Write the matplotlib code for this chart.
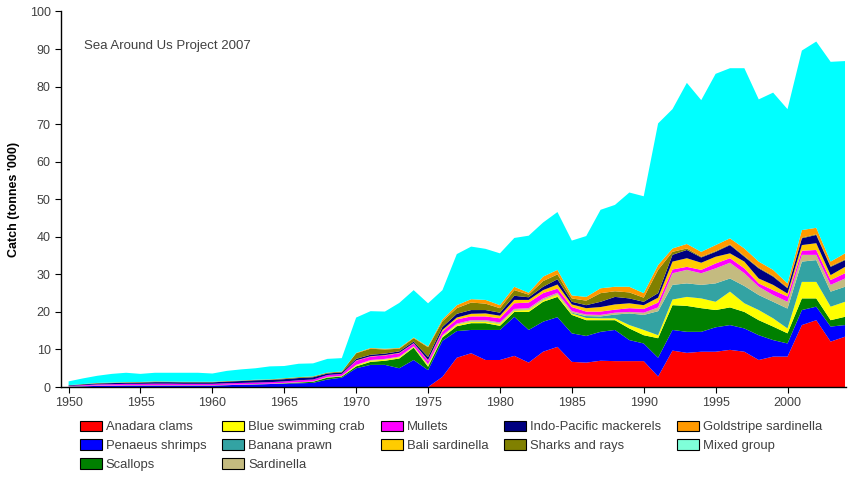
"""
Stacked catch by taxon, 1950-2004 (thousand tonnes)
"""

import matplotlib
matplotlib.use("Agg")
import matplotlib.pyplot as plt
from matplotlib.patches import Patch

plt.rcParams["font.family"] = ["Liberation Sans", "DejaVu Sans"]

# --- data (thousand tonnes, one value per year) ---
years = list(range(1950, 2005))

anadara_clams = [
    0, 0, 0, 0, 0, 0, 0, 0, 0, 0,
    0, 0, 0, 0, 0, 0, 0, 0, 0, 0,
    0, 0, 0, 0, 0, 0, 2.7, 7.8, 9.0, 7.2,
    7.2, 8.3, 6.5, 9.4, 10.7, 6.7, 6.5, 7.0, 6.9, 6.9,
    6.9, 2.8, 9.7, 9.1, 9.4, 9.4, 9.9, 9.4, 7.2, 8.1,
    8.1, 16.5, 17.8, 12.1, 13.4,
]
penaeus_shrimps = [
    0.1, 0.2, 0.3, 0.3, 0.4, 0.4, 0.4, 0.4, 0.4, 0.4,
    0.4, 0.5, 0.6, 0.7, 0.8, 0.9, 1.0, 1.1, 2.0, 2.5,
    5.0, 5.9, 5.9, 5.0, 7.2, 4.5, 9.6, 7.1, 6.2, 8.0,
    8.0, 10.4, 8.7, 8.0, 7.9, 7.6, 7.1, 7.7, 8.3, 5.6,
    4.7, 5.0, 5.5, 5.6, 5.3, 6.5, 6.6, 6.2, 6.6, 4.4,
    3.5, 4.0, 3.6, 4.0, 3.1,
]
scallops = [
    0, 0, 0, 0, 0, 0, 0, 0, 0, 0,
    0, 0, 0, 0, 0, 0.1, 0.2, 0.3, 0.5, 0.3,
    0.5, 0.8, 1.1, 2.6, 3.3, 0.9, 0.9, 1.3, 1.8, 1.8,
    1.1, 1.3, 4.8, 5.3, 5.4, 4.9, 4.2, 3.1, 2.6, 3.1,
    2.2, 5.2, 6.6, 6.9, 6.3, 4.6, 4.7, 4.4, 4.0, 3.6,
    2.7, 3.1, 2.2, 1.7, 2.2,
]
blue_swimming_crab = [
    0.05, 0.05, 0.05, 0.05, 0.05, 0.05, 0.05, 0.05, 0.05, 0.05,
    0.05, 0.05, 0.05, 0.05, 0.05, 0.05, 0.05, 0.05, 0.1, 0.1,
    0.3, 0.3, 0.3, 0.3, 0.2, 0.4, 0.3, 0.4, 0.4, 0.4,
    0.5, 0.4, 0.5, 0.4, 0.6, 0.4, 0.6, 0.5, 0.5, 0.9,
    1.4, 0.8, 1.5, 2.4, 2.6, 2.2, 4.2, 2.3, 2.7, 2.2,
    1.3, 4.4, 4.4, 3.6, 4.0,
]
banana_prawn = [
    0, 0, 0, 0, 0, 0, 0, 0, 0, 0,
    0, 0, 0, 0, 0, 0, 0, 0, 0, 0,
    0, 0, 0, 0, 0, 0, 0, 0, 0.1, 0.1,
    0.1, 0.1, 0.1, 0.1, 0.1, 0.2, 0.5, 0.5, 1.0, 3.1,
    4.0, 6.4, 3.9, 3.6, 3.6, 4.9, 3.5, 4.6, 4.0, 4.4,
    5.3, 5.4, 5.8, 4.0, 4.0,
]
sardinella = [
    0.05, 0.05, 0.05, 0.05, 0.05, 0.05, 0.05, 0.05, 0.05, 0.05,
    0.05, 0.05, 0.05, 0.05, 0.05, 0.05, 0.05, 0.05, 0.1, 0.1,
    0.1, 0.2, 0.2, 0.2, 0.2, 0.3, 0.3, 0.3, 0.3, 0.3,
    0.3, 0.3, 0.4, 0.4, 0.4, 0.4, 0.4, 0.4, 0.5, 0.4,
    0.6, 1.0, 3.1, 3.6, 3.1, 4.0, 4.2, 3.4, 2.2, 1.8,
    1.8, 1.8, 1.4, 1.8, 2.2,
]
mullets = [
    0.1, 0.2, 0.3, 0.35, 0.35, 0.35, 0.4, 0.4, 0.35, 0.35,
    0.35, 0.4, 0.4, 0.4, 0.4, 0.4, 0.5, 0.5, 0.5, 0.5,
    1.1, 0.9, 0.9, 0.9, 0.7, 0.9, 1.0, 1.1, 1.0, 1.0,
    1.1, 1.5, 1.5, 1.4, 1.1, 1.1, 0.8, 0.9, 0.8, 1.0,
    1.0, 1.3, 1.0, 0.8, 0.9, 1.3, 1.2, 1.3, 0.9, 1.3,
    1.4, 1.1, 1.3, 1.3, 1.4,
]
bali_sardinella = [
    0, 0, 0, 0, 0, 0, 0, 0, 0, 0,
    0, 0, 0, 0, 0, 0, 0, 0, 0, 0,
    0.1, 0.1, 0.1, 0.1, 0.1, 0.2, 0.4, 0.5, 0.7, 0.8,
    0.7, 0.9, 0.7, 0.8, 1.1, 0.7, 0.9, 1.2, 1.4, 1.3,
    1.0, 1.3, 2.1, 2.3, 1.9, 1.8, 1.3, 1.8, 1.3, 1.4,
    0.8, 1.5, 1.8, 1.3, 1.7,
]
indo_pacific_mackerels = [
    0.15, 0.2, 0.25, 0.3, 0.3, 0.35, 0.4, 0.4, 0.4, 0.4,
    0.4, 0.45, 0.5, 0.6, 0.6, 0.6, 0.6, 0.6, 0.4, 0.4,
    0.4, 0.4, 0.4, 0.4, 0.4, 0.8, 0.8, 1.0, 1.0, 0.9,
    0.8, 1.1, 0.7, 0.9, 1.4, 0.7, 0.8, 1.4, 2.0, 1.3,
    0.9, 1.2, 1.8, 2.2, 1.4, 1.3, 2.2, 1.3, 2.7, 2.2,
    1.4, 1.8, 2.2, 2.2, 1.8,
]
sharks_and_rays = [
    0.05, 0.1, 0.1, 0.1, 0.1, 0.1, 0.15, 0.1, 0.1, 0.1,
    0.1, 0.1, 0.1, 0.1, 0.1, 0.2, 0.2, 0.2, 0.2, 0.2,
    1.5, 1.6, 1.1, 0.7, 0.9, 2.6, 1.5, 1.5, 2.0, 1.7,
    1.2, 1.5, 0.7, 1.5, 1.3, 0.9, 1.2, 2.3, 1.5, 1.6,
    1.1, 6.2, 0.8, 0.4, 0.2, 0.2, 0.2, 0.2, 0.2, 0.2,
    0.2, 0.2, 0.2, 0.2, 0.2,
]
goldstripe_sardinella = [
    0, 0, 0.05, 0.05, 0.05, 0.05, 0.05, 0.05, 0.05, 0.05,
    0.05, 0.05, 0.05, 0.05, 0.05, 0.05, 0.05, 0.05, 0.05, 0.05,
    0.1, 0.2, 0.2, 0.2, 0.2, 0.2, 0.5, 0.8, 0.9, 1.0,
    0.8, 0.9, 0.5, 1.2, 1.2, 0.8, 1.0, 1.3, 1.2, 1.5,
    1.2, 1.3, 0.9, 1.2, 1.3, 1.6, 1.6, 2.0, 1.6, 1.6,
    1.1, 2.0, 1.7, 1.2, 1.6,
]
mixed_group = [
    1.0, 1.5, 1.9, 2.3, 2.5, 2.15, 2.3, 2.35, 2.4, 2.4,
    2.2, 2.7, 2.95, 3.05, 3.45, 3.25, 3.55, 3.45, 3.65, 3.55,
    9.4, 9.8, 9.9, 12.0, 12.6, 11.5, 7.8, 13.6, 14.0, 13.6,
    13.8, 13.0, 15.2, 14.4, 15.4, 14.6, 16.2, 20.9, 21.8, 25.1,
    25.8, 37.7, 37.1, 42.9, 40.4, 45.6, 45.3, 48.0, 43.2, 47.2,
    46.4, 47.8, 49.6, 53.2, 51.2,
]

series = [
    ("Anadara clams", anadara_clams, "#ff0000"),
    ("Penaeus shrimps", penaeus_shrimps, "#0000ff"),
    ("Scallops", scallops, "#008000"),
    ("Blue swimming crab", blue_swimming_crab, "#ffff00"),
    ("Banana prawn", banana_prawn, "#33a3a3"),
    ("Sardinella", sardinella, "#c4bb80"),
    ("Mullets", mullets, "#ff00ff"),
    ("Bali sardinella", bali_sardinella, "#ffcc00"),
    ("Indo-Pacific mackerels", indo_pacific_mackerels, "#000080"),
    ("Sharks and rays", sharks_and_rays, "#808000"),
    ("Goldstripe sardinella", goldstripe_sardinella, "#ff9900"),
    ("Mixed group", mixed_group, "#00ffff"),
]
# legend swatch for the mixed group is the paler aquamarine
LEGEND_COLORS = {"Mixed group": "#7fffd9"}

# --- figure ---
fig = plt.figure(figsize=(8.49, 4.79), dpi=100)
ax = fig.add_axes([0.072, 0.192, 0.925, 0.784])

labels = [s[0] for s in series]
ax.stackplot(years, *[s[1] for s in series], colors=[s[2] for s in series],
             labels=labels, linewidth=0)

ax.set_xlim(1949.48, 2004.1)
ax.set_ylim(0, 100)
ax.set_xticks(range(1950, 2001, 5))
ax.set_yticks(range(0, 101, 10))

for side in ("top", "right"):
    ax.spines[side].set_visible(False)
for side in ("left", "bottom"):
    ax.spines[side].set_linewidth(1.0)
    ax.spines[side].set_color("black")
ax.tick_params(axis="both", direction="out", length=4, width=0.8,
               labelsize=9, labelcolor="#404040", color="black")

ax.set_ylabel("Catch (tonnes '000)", fontsize=9, fontweight="bold", labelpad=7)
ax.text(0.029, 0.909, "Sea Around Us Project 2007", transform=ax.transAxes,
        fontsize=9.5, color="#404040", va="center", ha="left")

handles = [
    Patch(facecolor=LEGEND_COLORS.get(name, color), edgecolor="black", linewidth=0.8)
    for name, _, color in series
]
fig.legend(handles, labels, loc="upper left", bbox_to_anchor=(0.094, 0.122),
           ncol=5, frameon=False, fontsize=9.4, handlelength=1.7, handleheight=0.9,
           handletextpad=0.3, columnspacing=1.2, labelspacing=0.45,
           labelcolor="#404040", borderaxespad=0, borderpad=0)

fig.savefig("out.png", dpi=100)
